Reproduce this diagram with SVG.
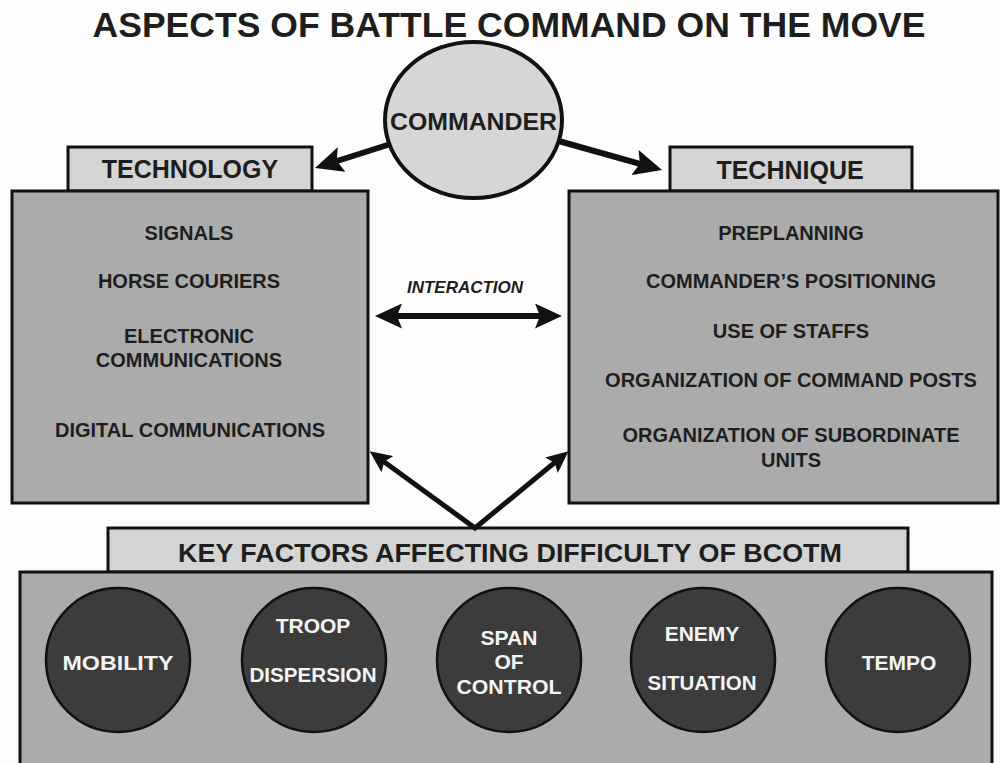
<svg xmlns="http://www.w3.org/2000/svg" width="1000" height="763" viewBox="0 0 1000 763">
<style>
.t{font-family:"Liberation Sans",Arial,sans-serif;font-weight:bold;fill:#1e1e1e;text-anchor:middle}
.w{font-family:"Liberation Sans",Arial,sans-serif;font-weight:bold;fill:#f4f4f4;text-anchor:middle;font-size:21px}
.box{fill:#ababab;stroke:#111;stroke-width:3}
.tab{fill:#d4d4d4;stroke:#111;stroke-width:3}
.dot{fill:#3c3c3c;stroke:#111;stroke-width:2.5}
.item{font-size:20px}
.conn{stroke:#111;fill:none}
</style>
<defs>
<marker id="ahL" viewBox="0 0 28 26" refX="18" refY="13" markerWidth="28" markerHeight="26" markerUnits="userSpaceOnUse" orient="auto-start-reverse"><path d="M0,0 L28,13 L0,26 L5,13 z" fill="#111"/></marker>
<marker id="ahM" viewBox="0 0 27 25" refX="17" refY="12.5" markerWidth="27" markerHeight="25" markerUnits="userSpaceOnUse" orient="auto-start-reverse"><path d="M0,0 L27,12.5 L0,25 L5,12.5 z" fill="#111"/></marker>
<marker id="ahS" viewBox="0 0 22 20" refX="14" refY="10" markerWidth="22" markerHeight="20" markerUnits="userSpaceOnUse" orient="auto-start-reverse"><path d="M0,0 L22,10 L0,20 L4,10 z" fill="#111"/></marker>
</defs>
<rect width="1000" height="763" fill="#fdfdfd"/>
<text class="t" x="509" y="37" font-size="35" textLength="833" lengthAdjust="spacingAndGlyphs">ASPECTS OF BATTLE COMMAND ON THE MOVE</text>

<g id="technology">
<rect class="tab" x="68" y="147" width="244" height="44"/>
<rect class="box" x="12" y="191" width="356" height="312"/>
<text class="t" x="190" y="178" font-size="25">TECHNOLOGY</text>
<text class="t item" x="189" y="240">SIGNALS</text>
<text class="t item" x="189" y="288">HORSE COURIERS</text>
<text class="t item" x="189" y="343">ELECTRONIC</text>
<text class="t item" x="189" y="367">COMMUNICATIONS</text>
<text class="t item" x="190" y="437">DIGITAL COMMUNICATIONS</text>
</g>

<g id="technique">
<rect class="tab" x="670" y="147" width="242" height="44"/>
<rect class="box" x="569" y="191" width="429" height="312"/>
<text class="t" x="790" y="179" font-size="25">TECHNIQUE</text>
<text class="t item" x="791" y="240">PREPLANNING</text>
<text class="t item" x="791" y="288">COMMANDER’S POSITIONING</text>
<text class="t item" x="791" y="338">USE OF STAFFS</text>
<text class="t item" x="791" y="387">ORGANIZATION OF COMMAND POSTS</text>
<text class="t item" x="791" y="442">ORGANIZATION OF SUBORDINATE</text>
<text class="t item" x="791" y="467">UNITS</text>
</g>

<g id="keyfactors">
<rect class="tab" x="108" y="528" width="800" height="44"/>
<rect class="box" x="20" y="572" width="972" height="200"/>
<text class="t" x="510" y="562" font-size="26" textLength="664" lengthAdjust="spacingAndGlyphs">KEY FACTORS AFFECTING DIFFICULTY OF BCOTM</text>
</g>

<g id="mobility">
<circle class="dot" cx="118" cy="660" r="72"/>
<text class="w" x="118" y="670" textLength="111" lengthAdjust="spacingAndGlyphs">MOBILITY</text>
</g>
<g id="troop-dispersion">
<circle class="dot" cx="314" cy="660" r="72"/>
<text class="w" x="313" y="633">TROOP</text>
<text class="w" x="313" y="682" textLength="127" lengthAdjust="spacingAndGlyphs">DISPERSION</text>
</g>
<g id="span-of-control">
<circle class="dot" cx="509" cy="660" r="72"/>
<text class="w" x="509" y="645">SPAN</text>
<text class="w" x="509" y="669">OF</text>
<text class="w" x="509" y="694" textLength="105" lengthAdjust="spacingAndGlyphs">CONTROL</text>
</g>
<g id="enemy-situation">
<circle class="dot" cx="703" cy="660" r="72"/>
<text class="w" x="702" y="641">ENEMY</text>
<text class="w" x="702" y="690" textLength="109" lengthAdjust="spacingAndGlyphs">SITUATION</text>
</g>
<g id="tempo">
<circle class="dot" cx="898" cy="660" r="72"/>
<text class="w" x="899" y="670">TEMPO</text>
</g>

<g id="connectors">
<line class="conn" x1="400" y1="141" x2="324.5" y2="165" stroke-width="6" marker-end="url(#ahL)"/>
<line class="conn" x1="548" y1="138" x2="652.4" y2="167.3" stroke-width="6" marker-end="url(#ahL)"/>
<line class="conn" x1="385" y1="316" x2="552" y2="316" stroke-width="6" marker-start="url(#ahM)" marker-end="url(#ahM)"/>
<polyline class="conn" points="376.1,455.9 475,528 562.3,456.3" stroke-width="5" marker-start="url(#ahS)" marker-end="url(#ahS)"/>
<text class="t" x="465" y="293" font-size="17" font-style="italic">INTERACTION</text>
</g>

<g id="commander">
<ellipse cx="473.5" cy="120" rx="88.5" ry="78" fill="#d6d6d6" stroke="#111" stroke-width="4"/>
<text class="t" x="473.5" y="130" font-size="24" textLength="167" lengthAdjust="spacingAndGlyphs">COMMANDER</text>
</g>
</svg>
